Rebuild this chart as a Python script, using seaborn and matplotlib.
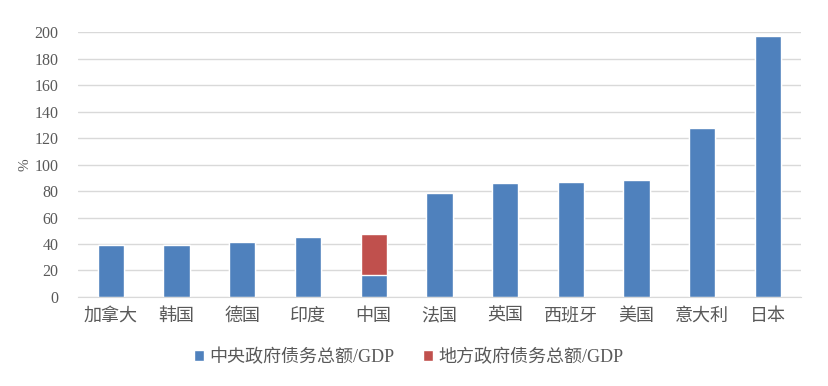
import pandas as pd
import matplotlib
matplotlib.use("Agg")
import matplotlib.pyplot as plt
import seaborn as sns
from matplotlib.patches import Patch

# 数据（读自原图，单位 %）
countries = ["加拿大", "韩国", "德国", "印度", "中国", "法国", "英国", "西班牙", "美国", "意大利", "日本"]
central_debt = [39, 39, 41.5, 45, 16.5, 78.3, 86, 86.8, 88.3, 127.3, 197]
local_debt = [0, 0, 0, 0, 31, 0, 0, 0, 0, 0, 0]

series_labels = ["中央政府债务总额/GDP", "地方政府债务总额/GDP"]
y_ticks = [0, 20, 40, 60, 80, 100, 120, 140, 160, 180, 200]

BLUE = "#4F81BD"
RED = "#C0504D"
TXT = "#595959"
GRID = "#D9D9D9"

sns.set_style("white")
plt.rcParams["font.family"] = ["Liberation Serif", "Noto Sans CJK SC", "DejaVu Sans"]

df = pd.DataFrame({
    "country": countries,
    "central": central_debt,
    "total": [c + l for c, l in zip(central_debt, local_debt)],
})

fig, ax = plt.subplots(figsize=(8.29, 3.86), dpi=100)
fig.subplots_adjust(left=0.094, right=0.966, bottom=0.2306, top=0.917)

# 先画合计（红色），再用中央政府覆盖（蓝色），得到堆积效果
sns.barplot(data=df, x="country", y="total", color=RED, saturation=1, width=0.4, ax=ax, zorder=2)
sns.barplot(data=df, x="country", y="central", color=BLUE, saturation=1, width=0.4, ax=ax, zorder=3)

ax.set_ylim(0, 200)
ax.set_yticks(y_ticks)
ax.set_xlim(-0.5, len(countries) - 0.5)
ax.yaxis.grid(True, color=GRID, linewidth=1)
ax.set_axisbelow(True)
for s in ["top", "right", "left"]:
    ax.spines[s].set_visible(False)
ax.spines["bottom"].set_color(GRID)
ax.spines["bottom"].set_zorder(4)

ax.tick_params(axis="y", length=0, pad=14, labelsize=11.5, labelcolor=TXT)
ax.tick_params(axis="x", length=0, pad=8, labelsize=13, labelcolor=TXT)
ax.set_xlabel("")
ax.set_ylabel("%", color=TXT, fontsize=11, labelpad=2)

handles = [Patch(facecolor=BLUE), Patch(facecolor=RED)]
fig.legend(handles, series_labels, loc="center", bbox_to_anchor=(0.493, 0.075), ncol=2,
           frameon=False, fontsize=13, labelcolor=TXT, handlelength=0.55, handleheight=0.55,
           handletextpad=0.3, columnspacing=1.6)

fig.savefig("out.png", dpi=100)
